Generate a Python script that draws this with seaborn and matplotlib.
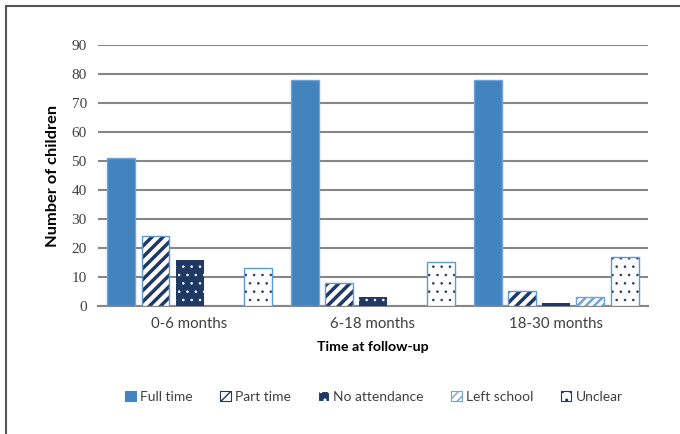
import pandas as pd
import seaborn as sns
import matplotlib.pyplot as plt
from matplotlib.patches import Rectangle, Patch

periods = ['0-6 months', '6-18 months', '18-30 months']
statuses = ['Full time', 'Part time', 'No attendance', 'Left school', 'Unclear']
full_time = [51, 78, 78]
part_time = [24, 8, 5]
no_attendance = [16, 3, 1]
left_school = [0, 0, 3]
unclear = [13, 15, 17]

blue = '#4484BE'
navy = '#1F3864'
edge_blue = '#5B9BD5'
light_blue = '#6FA3DA'

# face, hatch, hatch colour, outline, hatch width
styles = {
    'Full time': (blue, None, blue, '#6FA3DA', 1.0),
    'Part time': ('white', '///', navy, edge_blue, 2.5),
    'No attendance': (navy, '..', 'white', None, 0.6),
    'Left school': ('white', '////', light_blue, light_blue, 1.8),
    'Unclear': ('white', '..', navy, edge_blue, 0.6),
}


def set_hw(p, w):
    if hasattr(p, 'set_hatch_linewidth'):
        p.set_hatch_linewidth(w)
    else:
        p._hatch_linewidth = w


values = [full_time, part_time, no_attendance, left_school, unclear]
df = pd.DataFrame([(p, s, v[i]) for s, v in zip(statuses, values)
                   for i, p in enumerate(periods)],
                  columns=['period', 'status', 'count'])

sns.set_style('white')
plt.rcParams['font.family'] = ['Lato', 'DejaVu Sans']
text_col = '#404040'

fig = plt.figure(figsize=(6.8, 4.34), dpi=100)
ax = fig.add_axes([0.144, 0.295, 0.809, 0.601])

sns.barplot(data=df, x='period', y='count', hue='status', order=periods,
            hue_order=statuses, width=0.93, gap=0.18, ax=ax, legend=False,
            palette=[styles[s][0] for s in statuses], saturation=1, zorder=3)

for cont, s in zip(ax.containers, statuses):
    face, hatch, hcol, outline, hw = styles[s]
    for p in cont.patches:
        p.set_facecolor(face)
        p.set_edgecolor(hcol)
        p.set_linewidth(0)
        if hatch:
            p.set_hatch(hatch)
            set_hw(p, hw)
        if outline and p.get_height() > 0:
            ax.add_patch(Rectangle(p.get_xy(), p.get_width(), p.get_height(),
                                   fill=False, ec=outline, lw=1.0, zorder=4))

ax.set_ylim(0, 90)
ax.set_xlim(-0.5, 2.5)
ax.set_yticks(range(0, 91, 10))
ax.yaxis.grid(True, color='#868686', lw=1.5, zorder=0)
for sp in ['top', 'right', 'left']:
    ax.spines[sp].set_visible(False)
ax.spines['bottom'].set_color('#868686')
ax.spines['bottom'].set_linewidth(1.5)
ax.tick_params(length=0, pad=8)
for lab in ax.get_yticklabels():
    lab.set_family('Liberation Serif')
    lab.set_fontsize(11)
    lab.set_color(text_col)
for lab in ax.get_xticklabels():
    lab.set_fontsize(10.8)
    lab.set_color(text_col)

ax.set_ylabel('Number of children', fontsize=11.8, fontweight='bold', color='black', labelpad=8)
ax.set_xlabel('Time at follow-up', fontsize=10.2, fontweight='bold', color='black', labelpad=7)

handles = []
for s in statuses:
    face, hatch, hcol, outline, hw = styles[s]
    h = Patch(facecolor=face, edgecolor=hcol, hatch=hatch, lw=0.8)
    set_hw(h, min(hw, 1.5))
    handles.append(h)
fig.legend(handles, statuses, loc='center', bbox_to_anchor=(0.55, 0.085), ncol=5,
           frameon=False, handlelength=0.75, handleheight=0.75, handletextpad=0.3,
           columnspacing=2.0, prop={'size': 10}, labelcolor=text_col)

fig.patches.append(Rectangle((0.009, -0.1), 1.2, 1.0862, transform=fig.transFigure,
                             fill=False, ec='#555555', lw=1.5))

fig.savefig('out.png', dpi=100)
